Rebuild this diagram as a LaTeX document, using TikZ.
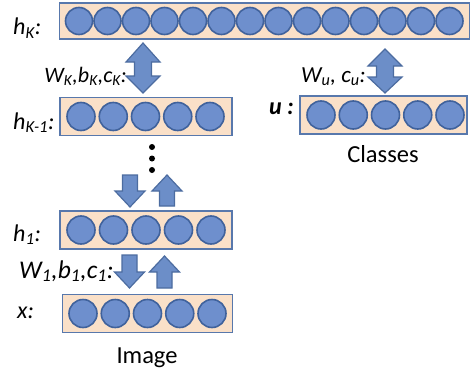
\documentclass[tikz,border=0pt]{standalone}
\usepackage{fontspec}
\setmainfont{Carlito}
\definecolor{peach}{RGB}{250,224,200}
\definecolor{barline}{RGB}{88,120,172}
\definecolor{cfill}{RGB}{110,143,205}
\definecolor{cline}{RGB}{64,98,156}
\definecolor{afill}{RGB}{108,142,200}
\definecolor{aline}{RGB}{76,108,160}
\begin{document}
\begin{tikzpicture}[x=1pt,y=-1pt,
  bar/.style={draw=barline,fill=peach,line width=1.6pt,inner sep=0pt},
  unit/.style={circle,draw=cline,fill=cfill,line width=1.6pt,minimum size=27pt,inner sep=0pt},
  arr/.style={draw=aline,fill=afill,line width=1.2pt,line join=miter},
  lab/.style={font=\fontsize{24}{28}\selectfont\itshape,inner sep=0pt},
  captxt/.style={font=\fontsize{24.5}{28}\selectfont,inner sep=0pt},
  dotnode/.style={circle,fill=black,minimum size=6pt,inner sep=0pt}]
\useasboundingbox (0,0) rectangle (473,369);
% bars
\node[bar,minimum width=410pt,minimum height=36pt] (hK) at (264.5,21) {};
\foreach \i in {0,...,13} \node[unit] (hK-\i) at ({79+28.5*\i},21) {};
\node[bar,minimum width=172pt,minimum height=38pt] (hKm) at (146,116.5) {};
\foreach \i in {0,...,4} \node[unit,minimum size=28pt] (hKm-\i) at ({81+32.25*\i},116.5) {};
\node[bar,minimum width=167pt,minimum height=38pt] (u) at (383.5,115) {};
\foreach \i in {0,...,4} \node[unit,minimum size=28pt] (u-\i) at ({321+32.25*\i},115) {};
\node[bar,minimum width=172pt,minimum height=38pt] (h1) at (146,230) {};
\foreach \i in {0,...,4} \node[unit,minimum size=28pt] (h1-\i) at ({81+32.5*\i},230) {};
\node[bar,minimum width=170pt,minimum height=38pt] (x) at (147.5,313.5) {};
\foreach \i in {0,...,4} \node[unit,minimum size=28pt] (x-\i) at ({83+32.25*\i},313.5) {};
% arrows
\draw[arr] (143,43) -- (160,62) -- (151.5,62) -- (151.5,76) -- (160,76) -- (143,93)
  -- (126,76) -- (134.5,76) -- (134.5,62) -- (126,62) -- cycle;
\draw[arr] (385,49) -- (402,66) -- (393.5,66) -- (393.5,77) -- (402,77) -- (385,93)
  -- (368,77) -- (376.5,77) -- (376.5,66) -- (368,66) -- cycle;
\draw[arr] (122.5,175) -- (137.5,175) -- (137.5,191) -- (145,191) -- (130,207) -- (115,191) -- (122.5,191) -- cycle;
\draw[arr] (167,175) -- (182,191) -- (174.5,191) -- (174.5,206) -- (159.5,206) -- (159.5,191) -- (152,191) -- cycle;
\draw[arr] (122,255) -- (137,255) -- (137,272) -- (144.5,272) -- (129.5,288) -- (114.5,272) -- (122,272) -- cycle;
\draw[arr] (164.5,256) -- (179.5,272) -- (172,272) -- (172,288) -- (157,288) -- (157,272) -- (149.5,272) -- cycle;
% dots
\node[dotnode] (d1) at (152,147) {};
\node[dotnode] (d2) at (152,158.5) {};
\node[dotnode] (d3) at (152,170) {};
% labels
\node[lab,anchor=base west] (lhK) at (13,35) {h\textsubscript{K}:};
\node[lab,anchor=base west] (lhK1) at (13,129) {h\textsubscript{K-1}:};
\node[lab,anchor=base west] (lh1) at (13,241) {h\textsubscript{1}:};
\node[lab,anchor=base west] (lx) at (17,318) {x:};
\node[lab,anchor=base east] (lu) at (294,114) {\bfseries u :};
\node[lab,font=\fontsize{22}{26}\selectfont\itshape,anchor=base east] (lWK) at (127,82) {W\textsubscript{K},b\textsubscript{K},c\textsubscript{K}:};
\node[lab,font=\fontsize{23}{26}\selectfont\itshape,anchor=base east] (lWu) at (366,82) {W\textsubscript{u}, c\textsubscript{u}:};
\node[lab,font=\fontsize{25.5}{28}\selectfont\itshape,anchor=base east] (lW1) at (114,278) {W\textsubscript{1},b\textsubscript{1},c\textsubscript{1}:};
\node[captxt,anchor=base] (lcl) at (383,162) {Classes};
\node[captxt,anchor=base] (lim) at (147,363) {Image};
\end{tikzpicture}
\end{document}
